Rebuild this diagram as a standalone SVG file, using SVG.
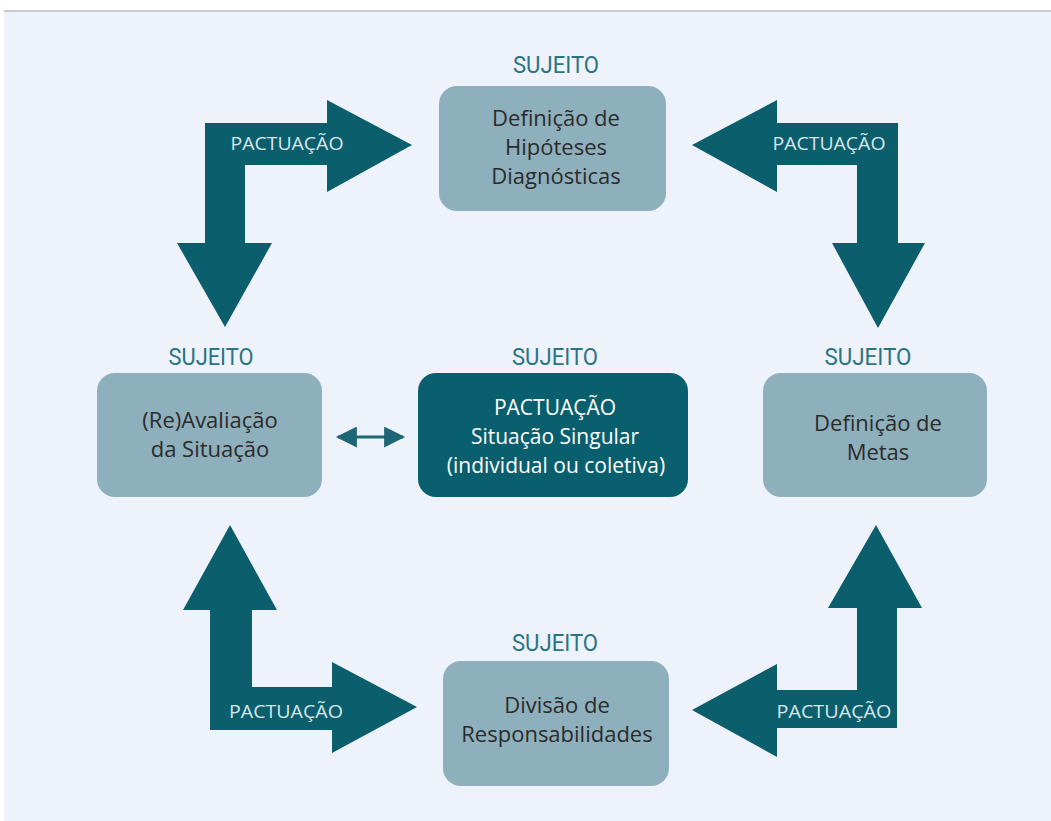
<svg xmlns="http://www.w3.org/2000/svg" width="1051" height="821" viewBox="0 0 1051 821">
  <defs>
    <style>
      .bg { fill: #eef2fa; }
      .box { fill: #8eafbc; }
      .boxdark { fill: #0a5f6e; }
      .arrow { fill: #0b5e6c; }
      .suj { font-family: Roboto, "Liberation Sans", sans-serif; font-size: 24px; fill: #2a7483; text-anchor: middle; }
      .lbl { font-family: "Open Sans", "Liberation Sans", sans-serif; font-size: 22px; fill: #2b2b2b; text-anchor: middle; }
      .lblw { font-family: "Open Sans", "Liberation Sans", sans-serif; font-size: 21px; fill: #ffffff; text-anchor: middle; }
      .pac { font-family: "Open Sans", "Liberation Sans", sans-serif; font-size: 18px; fill: #d6e6ea; text-anchor: middle; }
      .dbl { stroke: #1d6676; stroke-width: 3; fill: none; }
    </style>
    <marker id="head" viewBox="0 0 10 10" refX="9" refY="5" markerWidth="8" markerHeight="7" markerUnits="strokeWidth" orient="auto-start-reverse">
      <path d="M0,0 L10,5 L0,10 z" fill="#1d6676"/>
    </marker>
  </defs>

  <rect x="0" y="0" width="1051" height="821" fill="#ffffff"/>
  <rect class="bg" x="4" y="11" width="1047" height="810"/>
  <line x1="4" y1="11" x2="1051" y2="11" stroke="#c9cbcf" stroke-width="2"/>

  <g id="connectors">
    <g id="arrow-top-left">
      <polygon class="arrow" points="205,123 327,123 327,100 412,145 327,192 327,165 245,165 245,243 272,243 225,327 177,243 205,243"/>
      <text class="pac" x="287" y="150" textLength="113" lengthAdjust="spacingAndGlyphs">PACTUAÇÃO</text>
    </g>
    <g id="arrow-top-right">
      <polygon class="arrow" points="898,123 777,123 777,100 692,145 777,192 777,165 857,165 857,243 832,243 878,328 925,243 898,243"/>
      <text class="pac" x="829" y="150" textLength="113" lengthAdjust="spacingAndGlyphs">PACTUAÇÃO</text>
    </g>
    <g id="arrow-bottom-left">
      <polygon class="arrow" points="210,730 210,610 183,610 230,525 277,610 252,610 252,687 332,687 332,662 417,707 332,753 332,730"/>
      <text class="pac" x="286" y="718" textLength="114" lengthAdjust="spacingAndGlyphs">PACTUAÇÃO</text>
    </g>
    <g id="arrow-bottom-right">
      <polygon class="arrow" points="897,728 897,608 922,608 876,525 828,608 857,608 857,690 777,690 777,664 692,710 777,757 777,728"/>
      <text class="pac" x="834" y="718" textLength="115" lengthAdjust="spacingAndGlyphs">PACTUAÇÃO</text>
    </g>
    <line id="double-arrow" class="dbl" x1="338" y1="437" x2="403" y2="437" marker-start="url(#head)" marker-end="url(#head)"/>
  </g>

  <g id="node-hipoteses">
    <text class="suj" x="556" y="73" textLength="86" lengthAdjust="spacingAndGlyphs">SUJEITO</text>
    <rect class="box" x="439" y="86" width="227" height="125" rx="18"/>
    <text class="lbl" x="556" y="126">Definição de</text>
    <text class="lbl" x="556" y="155">Hipóteses</text>
    <text class="lbl" x="556" y="184">Diagnósticas</text>
  </g>

  <g id="node-avaliacao">
    <text class="suj" x="211" y="365" textLength="85" lengthAdjust="spacingAndGlyphs">SUJEITO</text>
    <rect class="box" x="97" y="373" width="225" height="124" rx="18"/>
    <text class="lbl" x="210" y="428">(Re)Avaliação</text>
    <text class="lbl" x="210" y="457">da Situação</text>
  </g>

  <g id="node-centro">
    <text class="suj" x="555" y="365" textLength="86" lengthAdjust="spacingAndGlyphs">SUJEITO</text>
    <rect class="boxdark" x="418" y="373" width="270" height="124" rx="18"/>
    <text class="lblw" x="555" y="415">PACTUAÇÃO</text>
    <text class="lblw" x="555" y="444">Situação Singular</text>
    <text class="lblw" x="556" y="473">(individual ou coletiva)</text>
  </g>

  <g id="node-metas">
    <text class="suj" x="868" y="365" textLength="87" lengthAdjust="spacingAndGlyphs">SUJEITO</text>
    <rect class="box" x="763" y="373" width="224" height="124" rx="18"/>
    <text class="lbl" x="878" y="431">Definição de</text>
    <text class="lbl" x="878" y="460">Metas</text>
  </g>

  <g id="node-responsabilidades">
    <text class="suj" x="555" y="651" textLength="86" lengthAdjust="spacingAndGlyphs">SUJEITO</text>
    <rect class="box" x="443" y="661" width="226" height="125" rx="18"/>
    <text class="lbl" x="557" y="713">Divisão de</text>
    <text class="lbl" x="557" y="742">Responsabilidades</text>
  </g>
</svg>
